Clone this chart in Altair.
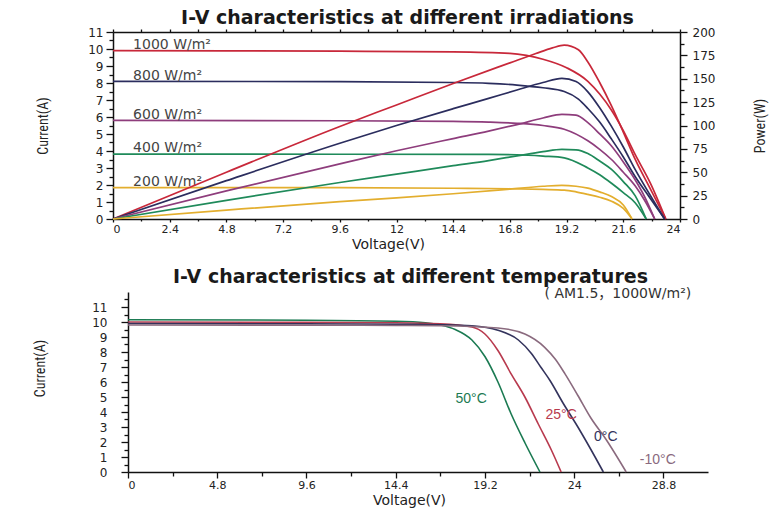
import altair as alt
import pandas as pd

# ---------------- top chart: I-V and P-V at different irradiations ----------------
irr_names = ["1000 W/m²", "800 W/m²", "600 W/m²", "400 W/m²", "200 W/m²"]
irr_colors = ["#c8283a", "#2b2d5e", "#8e3d7c", "#1f8a5a", "#e3ae2e"]

iv1000_v = [0, 4.8, 9.6, 14.4, 16.8, 17.5, 18.2, 19.2, 20.1, 20.6, 21.1, 21.6, 22.1, 22.75, 23.4]
iv1000_i = [9.9, 9.89, 9.87, 9.83, 9.74, 9.62, 9.4, 8.9, 8.1, 7.35, 6.4, 5.2, 3.8, 2.1, 0]
iv800_v = [0, 9.6, 14.4, 15.9, 17.1, 18.2, 19.1, 19.7, 20.1, 20.6, 21.1, 21.6, 22.1, 22.7, 23.35]
iv800_i = [8.1, 8.08, 8.03, 7.98, 7.88, 7.72, 7.5, 7.05, 6.5, 5.7, 4.7, 3.65, 2.5, 1.3, 0]
iv600_v = [0, 9.6, 14.4, 15.9, 17.1, 18.2, 19.1, 20.1, 20.6, 21.1, 21.6, 22.1, 22.5, 22.93]
iv600_i = [5.8, 5.78, 5.74, 5.7, 5.63, 5.5, 5.28, 4.6, 4.1, 3.5, 2.75, 1.95, 1.1, 0]
iv400_v = [0, 9.6, 15.9, 17.1, 18.2, 19.1, 20.1, 20.6, 21.1, 21.6, 22.1, 22.57]
iv400_i = [3.82, 3.81, 3.8, 3.78, 3.7, 3.6, 3.0, 2.6, 2.1, 1.55, 0.96, 0]
iv200_v = [0, 9.6, 14.4, 16.8, 18.2, 19.1, 19.6, 20.1, 20.6, 21.1, 21.6, 21.97]
iv200_i = [1.85, 1.84, 1.81, 1.78, 1.74, 1.7, 1.6, 1.45, 1.28, 1.05, 0.62, 0]

p1000_v = [0, 4.8, 9.6, 12, 14.4, 16.8, 17.9, 18.6, 19.1, 19.7, 20.1, 20.6, 21.1, 21.6, 22.1, 22.75, 23.4]
p1000_p = [0, 50, 99, 122, 145, 167, 177, 183, 186, 181, 168, 146, 121, 93, 64, 32, 0]
p800_v = [0, 4.8, 9.6, 12, 14.4, 15.9, 17.1, 18.2, 19.0, 19.6, 20.1, 20.6, 21.1, 21.6, 22.1, 22.7, 23.35]
p800_p = [0, 41, 81, 100, 118, 129, 138, 146, 150.5, 147, 136, 119, 99, 77, 53, 27, 0]
p600_v = [0, 4.8, 9.6, 12, 14.4, 15.9, 17.1, 18.2, 19.0, 19.6, 20.1, 20.6, 21.1, 21.6, 22.1, 22.5, 22.93]
p600_p = [0, 30, 59, 73, 86, 94, 101, 108, 112, 111, 103, 91, 78, 61, 42, 24, 0]
p400_v = [0, 4.8, 9.6, 12, 14.4, 15.9, 17.1, 18.2, 19.0, 19.6, 20.1, 20.6, 21.1, 21.6, 22.1, 22.57]
p400_p = [0, 20, 39, 48, 57, 62.5, 67.5, 72, 74.5, 74, 70, 62, 53, 40, 25, 0]
p200_v = [0, 4.8, 9.6, 12, 14.4, 16.8, 18.2, 19.0, 19.6, 20.1, 20.6, 21.1, 21.6, 21.97]
p200_p = [0, 9.5, 18.5, 22.5, 27, 32, 35, 36, 35, 33, 29, 24, 15, 0]

irr_label_v = [0.85, 0.85, 0.85, 0.85, 0.85]
irr_label_i = [10.24, 8.4, 6.1, 4.2, 2.18]

top_x_ticks = [0, 1.2, 2.4, 3.6, 4.8, 6, 7.2, 8.4, 9.6, 10.8, 12, 13.2, 14.4, 15.6, 16.8, 18, 19.2, 20.4, 21.6, 22.8, 24]
cur_ticks = [0, 0.5, 1, 1.5, 2, 2.5, 3, 3.5, 4, 4.5, 5, 5.5, 6, 6.5, 7, 7.5, 8, 8.5, 9, 9.5, 10, 10.5, 11]
pow_ticks = [0, 12.5, 25, 37.5, 50, 62.5, 75, 87.5, 100, 112.5, 125, 137.5, 150, 162.5, 175, 187.5, 200]

# ---------------- bottom chart: I-V at different temperatures ----------------
temp_names = ["50°C", "25°C", "0°C", "-10°C"]
temp_colors = ["#1b7a52", "#b83a4e", "#33335c", "#8a6a7e"]

t50_v = [0, 9.6, 14.4, 16.0, 16.8, 17.6, 18.5, 19.2, 19.9, 20.6, 21.35, 22.16]
t50_i = [10.15, 10.12, 10.05, 9.95, 9.8, 9.5, 8.8, 7.7, 6.0, 3.9, 1.95, 0]
t25_v = [0, 9.6, 14.4, 16.8, 18.5, 19.2, 19.9, 20.6, 21.35, 22.07, 22.78, 23.3]
t25_i = [10.0, 9.98, 9.95, 9.88, 9.67, 9.2, 8.1, 6.56, 5.0, 3.2, 1.45, 0]
t0_v = [0, 9.6, 14.4, 16.8, 18.5, 19.9, 21.0, 21.7, 22.2, 22.7, 23.4, 24.2, 24.9, 25.57]
t0_i = [9.9, 9.88, 9.85, 9.82, 9.75, 9.45, 8.8, 7.9, 7.0, 6.1, 4.6, 3.0, 1.5, 0]
tm10_v = [0, 9.6, 14.4, 16.8, 19.9, 21.35, 22.4, 23.0, 23.5, 24.2, 24.9, 25.7, 26.8]
tm10_i = [9.8, 9.79, 9.77, 9.75, 9.6, 9.2, 8.33, 7.5, 6.56, 5.1, 3.6, 2.2, 0]

temp_label_v = [18.46, 23.3, 25.7, 28.5]
temp_label_i = [4.9, 3.78, 2.31, 0.78]

cond_text = ["( AM1.5，1000W/m²)"]
cond_v = [30.3]
cond_i = [11.85]

bot_x_ticks = [0, 2.4, 4.8, 7.2, 9.6, 12, 14.4, 16.8, 19.2, 21.6, 24, 26.4, 28.8]
bot_y_ticks = [0, 0.5, 1, 1.5, 2, 2.5, 3, 3.5, 4, 4.5, 5, 5.5, 6, 6.5, 7, 7.5, 8, 8.5, 9, 9.5, 10, 10.5, 11, 11.5]

# ---------------- tables ----------------
iv_rows = []
for name, vs, cs in zip(irr_names,
                        [iv1000_v, iv800_v, iv600_v, iv400_v, iv200_v],
                        [iv1000_i, iv800_i, iv600_i, iv400_i, iv200_i]):
    for v, c in zip(vs, cs):
        iv_rows.append({"series": name, "V": v, "I": c})
iv_df = pd.DataFrame(iv_rows)

p_rows = []
for name, vs, ps in zip(irr_names,
                        [p1000_v, p800_v, p600_v, p400_v, p200_v],
                        [p1000_p, p800_p, p600_p, p400_p, p200_p]):
    for v, p in zip(vs, ps):
        p_rows.append({"series": name, "V": v, "P": p})
p_df = pd.DataFrame(p_rows)

irr_lab_df = pd.DataFrame({"label": irr_names, "V": irr_label_v, "I": irr_label_i})

t_rows = []
for name, vs, cs in zip(temp_names, [t50_v, t25_v, t0_v, tm10_v], [t50_i, t25_i, t0_i, tm10_i]):
    for v, c in zip(vs, cs):
        t_rows.append({"series": name, "V": v, "I": c})
t_df = pd.DataFrame(t_rows)
t_lab_df = pd.DataFrame({"series": temp_names, "V": temp_label_v, "I": temp_label_i})
cond_df = pd.DataFrame({"label": cond_text, "V": cond_v, "I": cond_i})

# ---------------- helpers ----------------
TICK_FONT = "DejaVu Sans"
AX_TITLE_FONT = "Liberation Sans Narrow, Roboto Condensed, Liberation Sans"


def major(step):
    return f"abs(datum.value/{step} - round(datum.value/{step})) < 0.01"


def lab_expr(step, maxv=None):
    cond = major(step)
    if maxv is not None:
        cond = f"({cond}) && datum.value <= {maxv}"
    return f"{cond} ? format(datum.value, '~g') : ''"


def tsize(step, big, small):
    return {"condition": {"test": major(step), "value": big}, "value": small}


# ---------------- top chart ----------------
xs_top = alt.Scale(domain=[0, 24], nice=False, zero=False)
cur_scale = alt.Scale(domain=[0, 11], nice=False)
pow_scale = alt.Scale(domain=[0, 200], nice=False)
col_irr = alt.Scale(domain=irr_names, range=irr_colors)

top_x_axis = alt.Axis(orient="bottom", values=top_x_ticks, labelExpr=lab_expr(2.4),
                      tickSize=tsize(2.4, 3, 2), labelPadding=1, labelFontSize=11,
                      title="Voltage(V)", titleFont=TICK_FONT, titleFontSize=14,
                      titleX=275, titleY=25, titleBaseline="middle", titleAlign="center")
top_y_axis = alt.Axis(orient="left", values=cur_ticks, labelExpr=lab_expr(1),
                      tickSize=tsize(1, 7, 4), labelPadding=3,
                      title="Current(A)", titleX=-70, titleY=93.5, titleBaseline="middle",
                      titleAlign="center")

iv_lines = alt.Chart(iv_df).mark_line(strokeWidth=1.7, interpolate="monotone").encode(
    x=alt.X("V:Q", scale=xs_top, axis=top_x_axis),
    y=alt.Y("I:Q", scale=cur_scale, axis=top_y_axis),
    color=alt.Color("series:N", scale=col_irr, legend=None),
)

iv_labels = alt.Chart(irr_lab_df).mark_text(
    align="left", baseline="middle", font=TICK_FONT, fontSize=14, color="#444444"
).encode(
    x=alt.X("V:Q", scale=xs_top, axis=top_x_axis),
    y=alt.Y("I:Q", scale=cur_scale, axis=top_y_axis),
    text="label:N",
)

p_lines = alt.Chart(p_df).mark_line(strokeWidth=1.7, interpolate="monotone").encode(
    x=alt.X("V:Q", scale=xs_top,
            axis=alt.Axis(orient="top", values=top_x_ticks, labels=False,
                          title=None, tickSize=3)),
    y=alt.Y("P:Q", scale=pow_scale,
            axis=alt.Axis(orient="right", values=pow_ticks, labelExpr=lab_expr(25),
                          tickSize=tsize(25, 7, 4), labelPadding=5,
                          title="Power(W)", titleAngle=270, titleX=80, titleY=93.5,
                          titleBaseline="middle", titleAlign="center")),
    color=alt.Color("series:N", scale=col_irr, legend=None),
)

top = alt.layer(alt.layer(iv_lines, iv_labels), p_lines).resolve_scale(
    y="independent"
).resolve_axis(x="independent", y="independent").properties(
    width=567, height=187,
    title=alt.TitleParams("I-V characteristics at different irradiations", font=TICK_FONT,
                          fontSize=19, fontWeight="bold", color="#1a1a1a",
                          anchor="middle", dx=11, offset=-2),
)

# ---------------- bottom chart ----------------
xs_bot = alt.Scale(domain=[0, 31.2], range=[15, 595], nice=False, zero=False)
ys_bot = alt.Scale(domain=[0, 12], nice=False)
col_t = alt.Scale(domain=temp_names, range=temp_colors)

bot_x_axis = alt.Axis(orient="bottom", values=bot_x_ticks, labelExpr=lab_expr(4.8),
                      tickSize=tsize(4.8, 6, 4), labelPadding=1, labelFontSize=11,
                      title="Voltage(V)", titleFont=TICK_FONT, titleFontSize=14,
                      titleX=296, titleY=28, titleBaseline="middle", titleAlign="center")
bot_y_axis = alt.Axis(orient="left", values=bot_y_ticks, labelExpr=lab_expr(1, 11),
                      tickSize=tsize(1, 7, 4), labelPadding=14, offset=-15,
                      title="Current(A)", titleX=-88, titleY=76, titleBaseline="middle",
                      titleAlign="center")

t_lines = alt.Chart(t_df).mark_line(strokeWidth=1.6, interpolate="monotone").encode(
    x=alt.X("V:Q", scale=xs_bot, axis=bot_x_axis),
    y=alt.Y("I:Q", scale=ys_bot, axis=bot_y_axis),
    color=alt.Color("series:N", scale=col_t, legend=None),
)

t_labels = alt.Chart(t_lab_df).mark_text(
    align="center", baseline="middle", font="Liberation Sans", fontSize=14
).encode(
    x=alt.X("V:Q", scale=xs_bot, axis=bot_x_axis),
    y=alt.Y("I:Q", scale=ys_bot, axis=bot_y_axis),
    text="series:N",
    color=alt.Color("series:N", scale=col_t, legend=None),
)

cond_label = alt.Chart(cond_df).mark_text(
    align="right", baseline="middle", font="DejaVu Sans, Noto Sans CJK SC",
    fontSize=14, color="#333333"
).encode(
    x=alt.X("V:Q", scale=xs_bot, axis=bot_x_axis),
    y=alt.Y("I:Q", scale=ys_bot, axis=bot_y_axis),
    text="label:N",
)

bottom = alt.layer(t_lines, t_labels, cond_label).properties(
    width=595, height=180,
    title=alt.TitleParams("I-V characteristics at different temperatures", font=TICK_FONT,
                          fontSize=19, fontWeight="bold", color="#1a1a1a",
                          anchor="middle", dx=0, offset=0),
)

chart = alt.vconcat(top, bottom, spacing=17).resolve_scale(
    color="independent"
).properties(
    padding={"left": 32, "top": 9, "right": 5, "bottom": 5},
    background="white",
).configure_view(stroke=None).configure_axis(
    grid=False, domainColor="#111111", domainWidth=1.5, tickColor="#111111", tickWidth=1.3,
    labelColor="#222222", labelFont=TICK_FONT, labelFontSize=12,
    titleFont=AX_TITLE_FONT, titleFontWeight="normal", titleFontSize=14, titleColor="#222222",
)

chart.save("out.html", embed_options={"renderer": "svg", "actions": False})
